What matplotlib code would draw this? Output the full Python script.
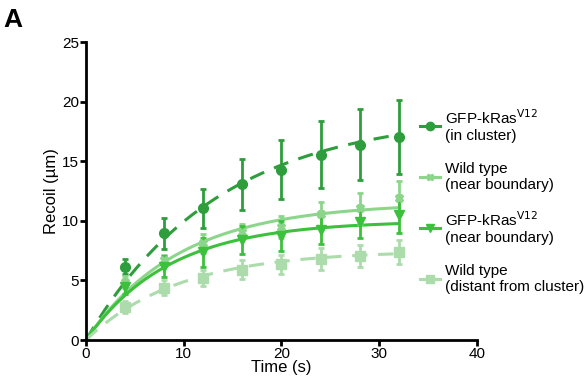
import numpy as np
import matplotlib
matplotlib.use('Agg')
import matplotlib.pyplot as plt

plt.rcParams['font.family'] = ['Liberation Sans', 'DejaVu Sans']

# time points (s)
time = [4, 8, 12, 16, 20, 24, 28, 32]

# GFP-kRasV12 in cluster
ras_cluster = [6.15, 8.95, 11.05, 13.05, 14.3, 15.55, 16.4, 17.0]
ras_cluster_err = [0.65, 1.3, 1.65, 2.15, 2.45, 2.8, 3.0, 3.1]

# Wild type near boundary
wt_near = [4.85, 6.7, 8.1, 9.1, 9.5, 10.6, 11.05, 11.95]
wt_near_err = [0.5, 0.45, 0.8, 0.6, 0.9, 1.0, 1.3, 1.35]

# GFP-kRasV12 near boundary
ras_near = [4.45, 6.15, 7.35, 8.4, 8.7, 9.25, 9.9, 10.5]
ras_near_err = [0.6, 0.9, 1.2, 1.2, 1.25, 1.2, 1.3, 1.5]

# Wild type distant from cluster
wt_far = [2.8, 4.4, 5.2, 5.9, 6.35, 6.8, 7.05, 7.35]
wt_far_err = [0.5, 0.6, 0.7, 0.8, 0.8, 0.9, 0.9, 1.0]

# exponential recoil fits: plateau, tau (s)
fit_params = {
    'ras_cluster': (19.0, 13.5),
    'wt_near': (11.5, 9.5),
    'ras_near': (10.0, 8.5),
    'wt_far': (7.5, 9.5),
}

labels = ['GFP-kRas$^{\\mathrm{V12}}$\n(in cluster)',
          'Wild type\n(near boundary)',
          'GFP-kRas$^{\\mathrm{V12}}$\n(near boundary)',
          'Wild type\n(distant from cluster)']

series = [
    ('ras_cluster', ras_cluster, ras_cluster_err, '#2e9e3c', 'o', '--', 7),
    ('wt_near', wt_near, wt_near_err, '#8bd68b', 'X', '-', 6),
    ('ras_near', ras_near, ras_near_err, '#3cc13c', 'v', '-', 7),
    ('wt_far', wt_far, wt_far_err, '#acdcac', 's', '--', 7),
]

fig = plt.figure(figsize=(5.87, 3.87), dpi=100)
ax = fig.add_axes([0.1465, 0.1214, 0.666, 0.770])

t_fit = np.linspace(0, 32, 200)
handles = []
for key, y, err, color, mk, ls, ms in series:
    a, tau = fit_params[key]
    ax.plot(t_fit, a * (1 - np.exp(-t_fit / tau)), color=color, linestyle=ls,
            linewidth=2.2, dashes=(5, 3.5) if ls == '--' else (None, None), zorder=2)
    ax.errorbar(time, y, yerr=err, fmt=mk, color=color, ecolor=color,
                markersize=ms, elinewidth=2, capsize=2.5, capthick=2, zorder=3)
    h, = ax.plot([], [], color=color, marker=mk, markersize=ms - 1, linewidth=2.2)
    handles.append(h)

ax.set_xlim(0, 40)
ax.set_ylim(0, 25)
ax.set_xticks([0, 10, 20, 30, 40])
ax.set_yticks([0, 5, 10, 15, 20, 25])
ax.spines['top'].set_visible(False)
ax.spines['right'].set_visible(False)
ax.spines['left'].set_linewidth(2)
ax.spines['bottom'].set_linewidth(2)
ax.tick_params(width=2, length=4, labelsize=11, pad=1)
ax.set_xlabel('Time (s)', fontsize=12, labelpad=-1)
ax.set_ylabel('Recoil (µm)', fontsize=12, labelpad=2)

fig.legend(handles, labels, loc='upper left', bbox_to_anchor=(0.692, 0.755),
           frameon=False, fontsize=11, handlelength=1.3, handletextpad=0.35,
           labelspacing=1.2)

fig.text(0.005, 0.93, 'A', fontsize=19, fontweight='bold')

fig.savefig('out.png', dpi=100)
